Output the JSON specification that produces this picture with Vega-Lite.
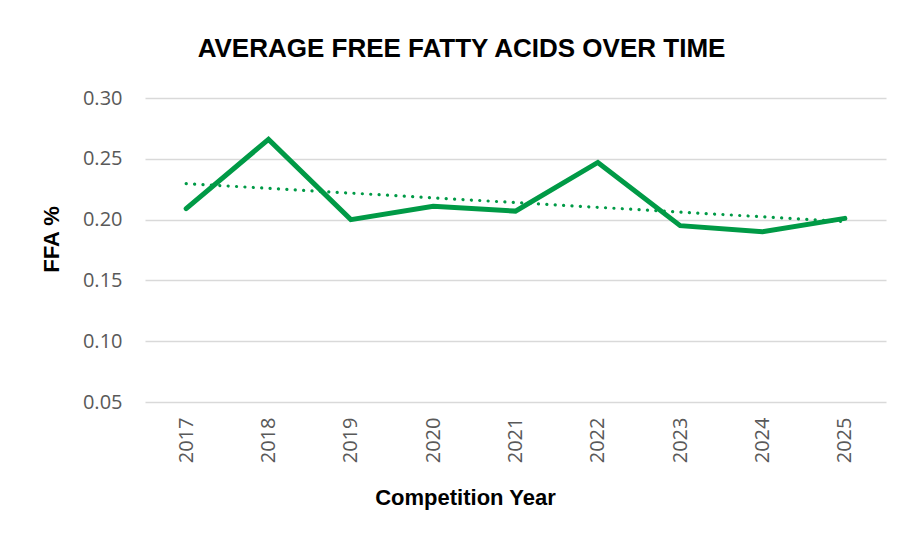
{
  "$schema": "https://vega.github.io/schema/vega-lite/v6.json",
  "width": 741,
  "height": 304,
  "autosize": "none",
  "padding": {"left": 145, "top": 98, "right": 16, "bottom": 131},
  "background": "white",
  "config": {
    "view": {"stroke": null},
    "axis": {
      "domain": false,
      "ticks": false,
      "labelFont": "Open Sans",
      "labelFontSize": 20,
      "labelColor": "#595959",
      "titleFont": "Liberation Sans",
      "titleFontWeight": "bold",
      "titleFontSize": 22,
      "titleColor": "#000000",
      "gridColor": "#d9d9d9",
      "gridWidth": 1.5
    }
  },
  "title": {
    "text": "AVERAGE FREE FATTY ACIDS OVER TIME",
    "font": "Liberation Sans",
    "fontWeight": "bold",
    "fontSize": 26,
    "color": "#000000",
    "anchor": "middle",
    "dx": -54,
    "offset": 26
  },
  "data": {
    "values": [
      {"Year": 2017, "FFA": 0.209},
      {"Year": 2018, "FFA": 0.266},
      {"Year": 2019, "FFA": 0.200},
      {"Year": 2020, "FFA": 0.211},
      {"Year": 2021, "FFA": 0.207},
      {"Year": 2022, "FFA": 0.247},
      {"Year": 2023, "FFA": 0.195},
      {"Year": 2024, "FFA": 0.190},
      {"Year": 2025, "FFA": 0.201}
    ]
  },
  "encoding": {
    "x": {
      "field": "Year",
      "type": "ordinal",
      "scale": {"padding": 0.5},
      "axis": {
        "title": "Competition Year",
        "labelAngle": -90,
        "labelPadding": 15,
        "titlePadding": 25,
        "titleX": 320,
        "grid": false
      }
    },
    "y": {
      "field": "FFA",
      "type": "quantitative",
      "scale": {"domain": [0.05, 0.30], "zero": false, "nice": false},
      "axis": {
        "title": "FFA %",
        "values": [0.05, 0.10, 0.15, 0.20, 0.25, 0.30],
        "format": ".2f",
        "labelPadding": 23,
        "titlePadding": 19,
        "titleY": 141,
        "grid": true
      }
    }
  },
  "layer": [
    {
      "mark": {"type": "line", "color": "#009A46", "strokeWidth": 5, "strokeJoin": "miter", "strokeCap": "round"}
    },
    {
      "transform": [{"regression": "FFA", "on": "Year"}],
      "mark": {"type": "line", "color": "#009A46", "strokeWidth": 3.2, "strokeDash": [0.1, 8.3], "strokeCap": "round"}
    }
  ]
}
